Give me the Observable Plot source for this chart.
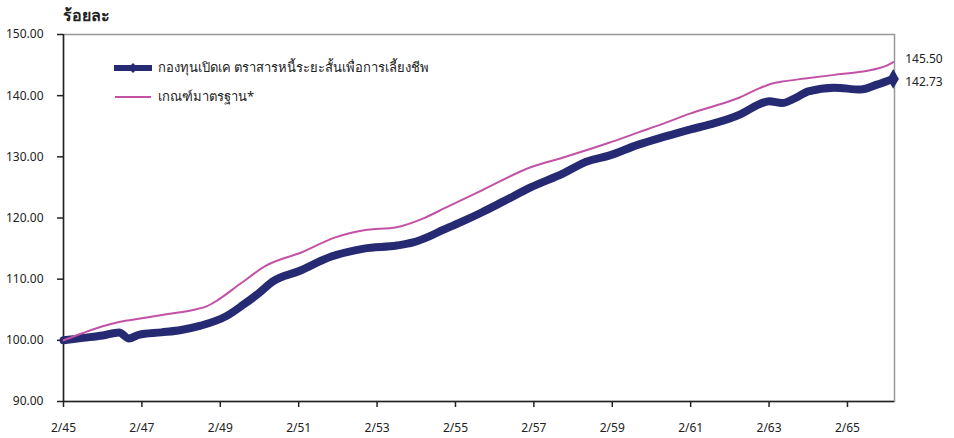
<!DOCTYPE html>
<html>
<head>
<meta charset="utf-8">
<script src="https://cdn.jsdelivr.net/npm/d3@7"></script>
<script src="https://cdn.jsdelivr.net/npm/@observablehq/plot@0.6"></script>
<style>
  body { margin: 0; background: #fff; font-family: "Noto Sans", "DejaVu Sans", sans-serif; }
  #wrap { position: relative; width: 954px; height: 438px; }
  #title { position: absolute; left: 63px; top: 3px; font-size: 16px; font-weight: bold; color: #222; }
  #chart { position: absolute; left: 0; top: 22px; }
  .leg { position: absolute; left: 114px; font-size: 13px; color: #222; display: flex; align-items: center; white-space: nowrap; }
  .leg svg { margin-right: 6px; }
</style>
</head>
<body>
<div id="wrap">
  <div id="title">ร้อยละ</div>
  <div id="chart"></div>
  <div class="leg" style="top:57px">
    <svg width="38" height="12"><line x1="1" y1="6" x2="37" y2="6" stroke="#262a73" stroke-width="6" stroke-linecap="round"/><path d="M19 1 L24 6 L19 11 L14 6 Z" fill="#262a73"/></svg>
    <span id="leg1"></span>
  </div>
  <div class="leg" style="top:86px">
    <svg width="38" height="12"><line x1="1" y1="6" x2="37" y2="6" stroke="#c252a6" stroke-width="2"/></svg>
    <span id="leg2"></span>
  </div>
</div>
<script>
const seriesNames = ["กองทุนเปิดเค ตราสารหนี้ระยะสั้นเพื่อการเลี้ยงชีพ", "เกณฑ์มาตรฐาน*"];
const tickMonths = [0, 24, 48, 72, 96, 120, 144, 168, 192, 216, 240];
const tickLabels = ["2/45", "2/47", "2/49", "2/51", "2/53", "2/55", "2/57", "2/59", "2/61", "2/63", "2/65"];
const yTicks = [90, 100, 110, 120, 130, 140, 150];

const fundMonths = [0, 6, 12, 17, 20, 23, 30, 36, 42, 50, 55, 60, 64, 72, 82, 92, 102, 107, 112, 116, 122, 128, 135, 143, 153, 160, 167, 176, 184, 192, 198, 207, 213, 216, 220, 224, 228, 236, 244, 249, 254];
const fundValues = [100.0, 100.4, 100.8, 101.3, 100.3, 100.9, 101.3, 101.7, 102.4, 104.0, 105.8, 107.8, 109.6, 111.3, 113.7, 115.0, 115.5, 116.0, 117.0, 118.0, 119.4, 120.9, 122.8, 125.0, 127.3, 129.2, 130.2, 132.0, 133.3, 134.5, 135.3, 136.9, 138.6, 139.1, 138.8, 139.6, 140.7, 141.3, 141.0, 141.8, 142.73];

const benchMonths = [0, 6, 12, 17, 24, 32, 40, 44, 47, 54, 62, 73, 83, 92, 102, 110, 117, 128, 143, 153, 167, 176, 183, 192, 198, 207, 213, 217, 220, 227, 236, 244, 249, 252, 254];
const benchValues = [100.0, 101.2, 102.3, 103.0, 103.6, 104.3, 105.0, 105.6, 106.5, 109.2, 112.2, 114.4, 116.8, 118.0, 118.5, 119.9, 121.7, 124.5, 128.3, 129.9, 132.3, 134.0, 135.3, 137.1, 138.1, 139.7, 141.2, 142.0, 142.3, 142.8, 143.4, 143.9, 144.4, 144.9, 145.5];

document.getElementById("leg1").textContent = seriesNames[0];
document.getElementById("leg2").textContent = seriesNames[1];

const fund = fundMonths.map((m, i) => ({m, v: fundValues[i]}));
const bench = benchMonths.map((m, i) => ({m, v: benchValues[i]}));
const fundLast = fund[fund.length - 1];
const benchLast = bench[bench.length - 1];

const chart = Plot.plot({
  width: 954,
  height: 416,
  marginLeft: 63,
  marginRight: 60,
  marginTop: 12,
  marginBottom: 37,
  style: {fontFamily: '"Noto Sans", "DejaVu Sans", sans-serif', fontSize: "12px", color: "#222", background: "#fff"},
  x: {domain: [0, 254.4], label: null},
  y: {domain: [90, 150], label: null},
  marks: [
    Plot.frame({stroke: "#999", strokeWidth: 1.5}),
    Plot.ruleX([0], {stroke: "#222", strokeWidth: 1.5}),
    Plot.ruleY([90], {stroke: "#222", strokeWidth: 1.5}),
    Plot.axisX({ticks: tickMonths, tickFormat: (d) => tickLabels[tickMonths.indexOf(d)], tickSize: 6, tickPadding: 16, stroke: "#222", strokeWidth: 1.5}),
    Plot.axisY({ticks: yTicks, tickFormat: (d) => d.toFixed(2), tickSize: 6, tickPadding: 14, stroke: "#222", strokeWidth: 1.5}),
    Plot.line(fund, {x: "m", y: "v", stroke: "#262a73", strokeWidth: 8, curve: "monotone-x"}),
    Plot.dot([fundLast], {x: "m", y: "v", symbol: "diamond", r: 6, fill: "#262a73"}),
    Plot.line(bench, {x: "m", y: "v", stroke: "#c252a6", strokeWidth: 2, curve: "monotone-x"}),
    Plot.text([benchLast], {x: "m", y: "v", text: (d) => d.v.toFixed(2), dx: 12, dy: -3, textAnchor: "start", fontSize: 12, fill: "#222"}),
    Plot.text([fundLast], {x: "m", y: "v", text: (d) => d.v.toFixed(2), dx: 12, dy: 3, textAnchor: "start", fontSize: 12, fill: "#222"})
  ]
});
document.getElementById("chart").append(chart);
</script>
</body>
</html>
